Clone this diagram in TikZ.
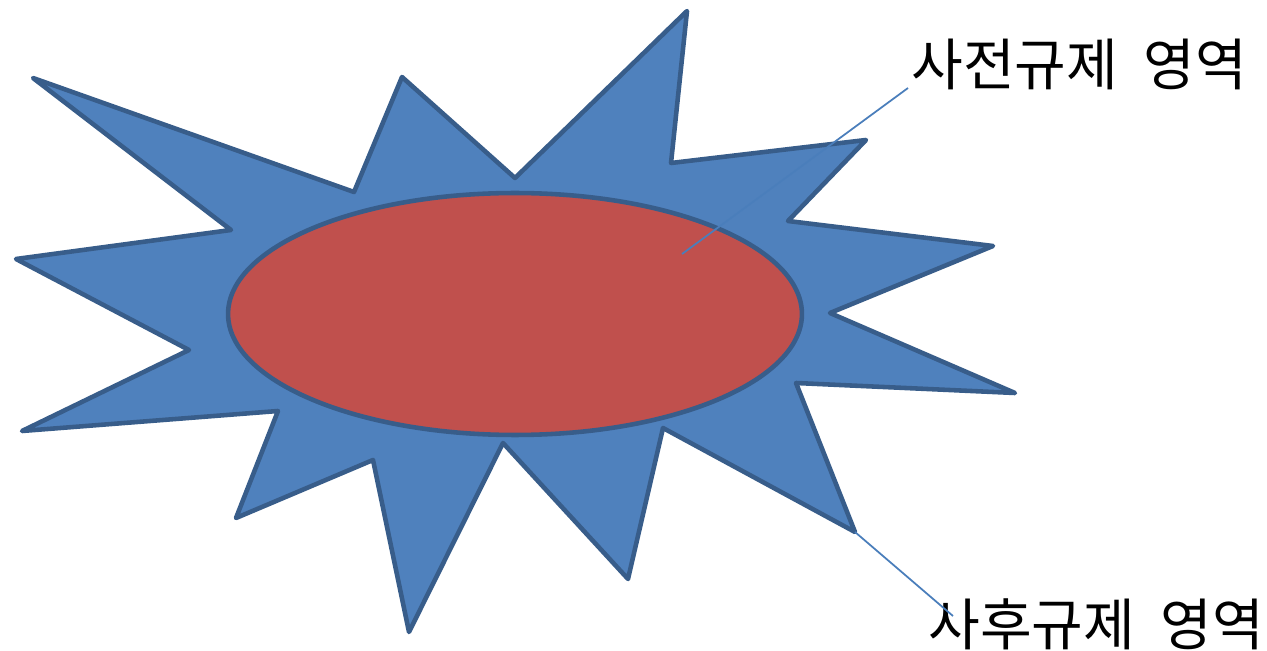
\documentclass[tikz,border=0pt]{standalone}
\usepackage{fontspec}
\usepackage{tikz}
\usetikzlibrary{shapes.geometric,positioning,calc}
\newfontfamily\krfont{Noto Sans CJK KR}
\definecolor{regBlue}{HTML}{4F81BD}
\definecolor{regEdge}{HTML}{385D8A}
\definecolor{regRed}{HTML}{C0504D}
\definecolor{regLine}{HTML}{4A7EBB}
\tikzset{
  regstar/.style={fill=regBlue,draw=regEdge,line width=2.6pt,line join=round},
  regcore/.style={ellipse,fill=regRed,draw=regEdge,line width=2.6pt,
                  minimum width=11.48cm,minimum height=4.84cm,inner sep=0pt},
  reglabel/.style={font=\krfont\fontsize{32}{35}\selectfont,inner sep=0pt,anchor=west},
  regleader/.style={regLine,line width=1pt}
}
\begin{document}
\begin{tikzpicture}[x=0.02cm,y=-0.02cm]
  \useasboundingbox (0,0) rectangle (1267,651);
  % outer area
  \draw[regstar] (33,78) -- (231,230) -- (16,259) -- (189,350) -- (22,431)
    -- (278,411) -- (236,518) -- (373,460) -- (409,632) -- (503,443)
    -- (628,579) -- (663,428) -- (855,532) -- (796,383) -- (1015,393)
    -- (830,313) -- (993,246) -- (788,221) -- (866,140) -- (671,163)
    -- (687,11) -- (515,178) -- (402,77) -- (354,192) -- cycle;
  % inner area
  \node[regcore] (pre) at (515,314) {};
  \coordinate (preend) at (682,254);
  \coordinate (postend) at (855,532);

  \node[reglabel] (prelab) at (911,64) {사전규제\hspace{0.45em}영역};
  \node[reglabel] (postlab) at (928,624) {사후규제\hspace{0.45em}영역};

  \draw[regleader] ($(prelab.west)+(-3,24)$) -- (preend);
  \draw[regleader] (postend) -- ($(postlab.west)+(25,-8)$);
\end{tikzpicture}
\end{document}
